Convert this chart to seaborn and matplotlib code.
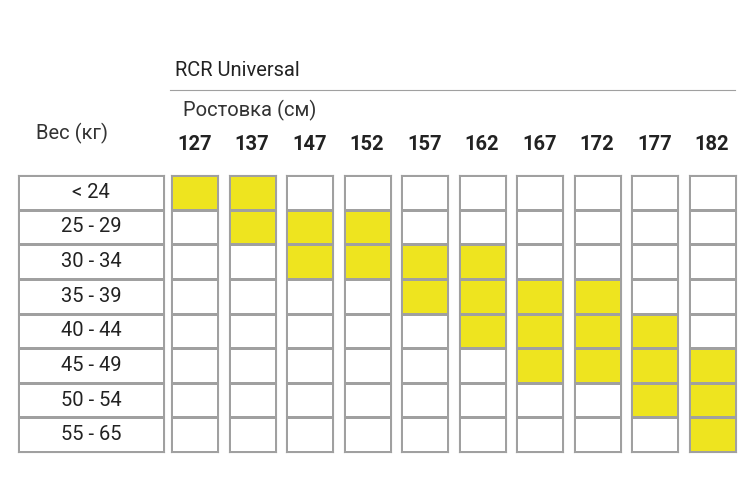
import numpy as np
import matplotlib
matplotlib.use('Agg')
import matplotlib.pyplot as plt
import seaborn as sns
from matplotlib.colors import ListedColormap
from matplotlib.lines import Line2D

weights = ['< 24', '25 - 29', '30 - 34', '35 - 39', '40 - 44', '45 - 49', '50 - 54', '55 - 65']
heights = ['127', '137', '147', '152', '157', '162', '167', '172', '177', '182']
# rows marked as fitting, per height column
fits = {
    '127': [0], '137': [0, 1], '147': [1, 2], '152': [1, 2], '157': [2, 3],
    '162': [2, 3, 4], '167': [3, 4, 5], '172': [3, 4, 5], '177': [4, 5, 6], '182': [5, 6, 7],
}

plt.rcParams['font.family'] = ['Roboto', 'DejaVu Sans']
W, H = 749, 478
fig = plt.figure(figsize=(W / 100, H / 100), dpi=100)
cmap = ListedColormap(['white', '#eee41f'])
grey = '#a0a0a0'
top, bottom = 175, 452
fs = 14.5


def box(x0, w):
    return fig.add_axes([x0 / W, 1 - bottom / H, w / W, (bottom - top) / H])


def style(ax):
    for s in ax.spines.values():
        s.set_visible(True)
        s.set_color(grey)
        s.set_linewidth(0.8)
    ax.set_xticks([])
    ax.set_yticks([])
    ax.set_xlabel('')
    ax.set_ylabel('')


# weight label column
ax = box(18, 146)
sns.heatmap(np.zeros((len(weights), 1)), ax=ax, cmap=cmap, vmin=0, vmax=1, cbar=False,
            linewidths=0.8, linecolor=grey,
            annot=np.array(weights).reshape(-1, 1), fmt='',
            annot_kws={'fontsize': fs, 'color': '#222222'})
style(ax)

for i, h in enumerate(heights):
    col = np.zeros((len(weights), 1))
    col[fits[h], 0] = 1
    x0 = 171 + 57.5 * i
    ax = box(x0, 47)
    sns.heatmap(col, ax=ax, cmap=cmap, vmin=0, vmax=1, cbar=False,
                linewidths=0.8, linecolor=grey)
    style(ax)
    fig.text((x0 + 23.5) / W, 1 - 145 / H, h, ha='center', va='center',
             fontsize=fs, fontweight='bold', color='#222222')

fig.text(175 / W, 1 - 70 / H, 'RCR Universal', ha='left', va='center', fontsize=fs, color='#222222')
fig.add_artist(Line2D([170 / W, 735 / W], [1 - 90 / H, 1 - 90 / H], color=grey, linewidth=0.8))
fig.text(183 / W, 1 - 110 / H, 'Ростовка (см)', ha='left', va='center', fontsize=fs, color='#333333')
fig.text(72 / W, 1 - 133 / H, 'Вес (кг)', ha='center', va='center', fontsize=fs, color='#333333')

fig.savefig('out.png', dpi=100)
